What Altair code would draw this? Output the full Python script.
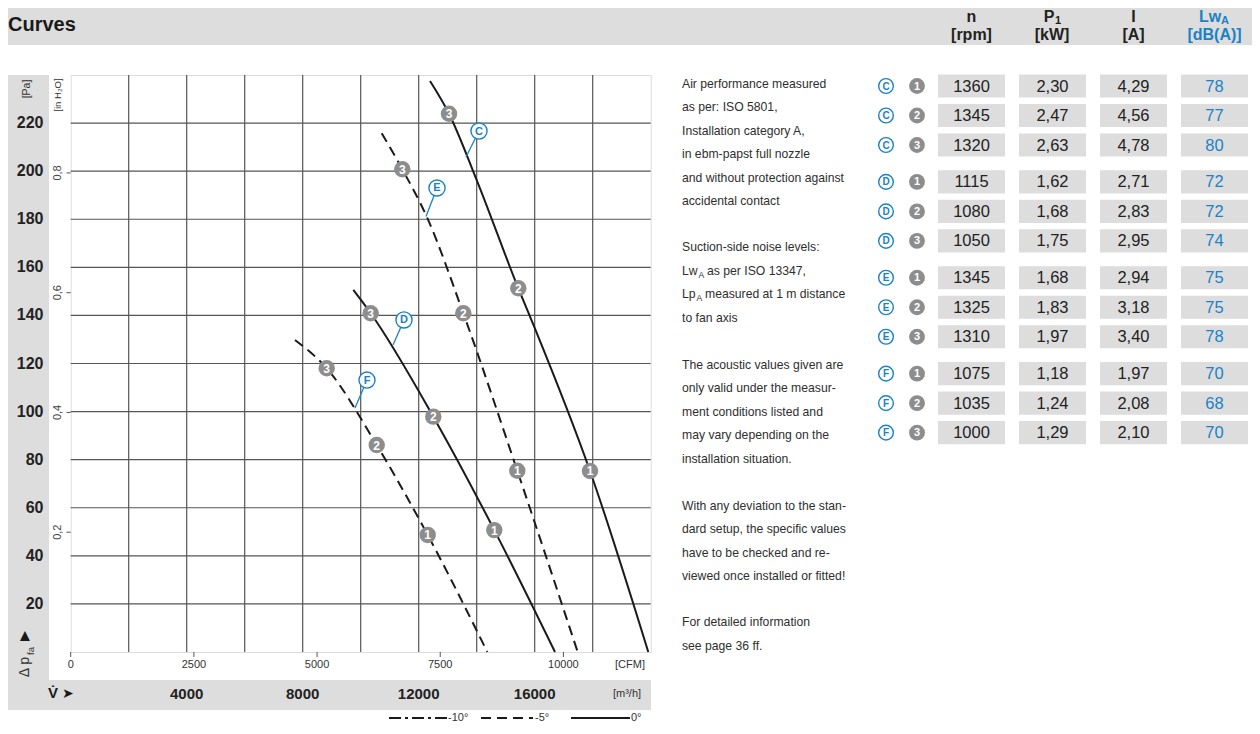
import altair as alt
import pandas as pd

# ---------------- chart values ----------------
CURVE_C_Q = [12390, 13045, 14000, 15434, 16010, 17907, 19917]
CURVE_C_P = [237.5, 223.9, 196.3, 151.3, 134.5, 75.3, 0]
CURVE_D_Q = [9745, 10345, 12503, 14607, 16700]
CURVE_D_P = [150.6, 140.9, 97.9, 50.7, 0]
CURVE_E_Q = [10724, 11434, 12276, 13538, 15400, 17483]
CURVE_E_P = [215.8, 200.8, 181.1, 140.9, 75.4, 0]
CURVE_F_Q = [7734, 8828, 10552, 12310, 14366]
CURVE_F_P = [129.8, 118.0, 86.1, 48.7, 0]
CURVE_ANGLE = {"C": "0°", "D": "0°", "E": "-5°", "F": "-5°"}

POINT_CURVE = ["C", "C", "C", "D", "D", "D", "E", "E", "E", "F", "F", "F"]
POINT_NUM = [1, 2, 3, 1, 2, 3, 1, 2, 3, 1, 2, 3]
POINT_Q = [17907, 15434, 13045, 14607, 12503, 10345, 15400, 13538, 11434, 12310, 10552, 8828]
POINT_P = [75.3, 151.3, 223.9, 50.7, 97.9, 140.9, 75.4, 140.9, 200.8, 48.7, 86.1, 118.0]

LABEL_NAME = ["C", "D", "E", "F"]
LABEL_Q = [14079, 11493, 12631, 10217]
LABEL_P = [216.7, 138.1, 193.0, 113.1]
LEADER_Q = [13631, 11114, 12252, 9803]
LEADER_P = [205.9, 127.7, 181.1, 101.5]

M3H_GRID = [2000, 4000, 6000, 8000, 10000, 12000, 14000, 16000, 18000]
M3H_LABELS = [4000, 8000, 12000, 16000]
PA_TICKS = [20, 40, 60, 80, 100, 120, 140, 160, 180, 200, 220]
CFM_TICKS = [0, 2500, 5000, 7500, 10000]
INH2O_TICKS = [0.2, 0.4, 0.6, 0.8]
CFM_TO_M3H = 1.699
INH2O_TO_PA = 249.089

TABLE_FAN = ["C", "C", "C", "D", "D", "D", "E", "E", "E", "F", "F", "F"]
TABLE_SPEED = [1, 2, 3, 1, 2, 3, 1, 2, 3, 1, 2, 3]
TABLE_N = [1360, 1345, 1320, 1115, 1080, 1050, 1345, 1325, 1310, 1075, 1035, 1000]
TABLE_P1 = [2.30, 2.47, 2.63, 1.62, 1.68, 1.75, 1.68, 1.83, 1.97, 1.18, 1.24, 1.29]
TABLE_I = [4.29, 4.56, 4.78, 2.71, 2.83, 2.95, 2.94, 3.18, 3.40, 1.97, 2.08, 2.10]
TABLE_LW = [78, 77, 80, 72, 72, 74, 75, 75, 78, 70, 68, 70]

NOTE_LINES = [
    "Air performance measured", "as per: ISO 5801,", "Installation category A,",
    "in ebm-papst full nozzle", "and without protection against", "accidental contact",
]
NOTE2_LINES = ["Suction-side noise levels:"]
NOTE3_LINES = [
    "The acoustic values given are", "only valid under the measur-",
    "ment conditions listed and", "may vary depending on the", "installation situation.",
]
NOTE4_LINES = [
    "With any deviation to the stan-", "dard setup, the specific values",
    "have to be checked and re-", "viewed once installed or fitted!",
]
NOTE5_LINES = ["For detailed information", "see page 36 ff."]

# ---------------- styling / layout ----------------
OX, OY = 70.7, 75.0          # page position of the plot area's top-left corner
W, H = 580, 577
FONT = "Liberation Sans, Arial, Helvetica, sans-serif"
DARK = "#222222"
TXT = "#2e2e2e"
GRIDC = "#555555"
BLUE = "#1b82c5"
BG = "#dddddd"
MARKER = "#8d8d8d"
ONE = pd.DataFrame({"k": [0]})


def T(text, x, y, size=12.2, weight="normal", color=TXT, align="left", angle=0):
    return alt.Chart(ONE).mark_text(
        text=text, fontSize=size, fontWeight=weight, color=color, align=align,
        baseline="middle", angle=angle, font=FONT,
    ).encode(x=alt.value(x - OX), y=alt.value(y - OY))


def R(x1, y1, x2, y2, color=BG):
    return alt.Chart(ONE).mark_rect(color=color).encode(
        x=alt.value(x1 - OX), x2=alt.value(x2 - OX), y=alt.value(y1 - OY), y2=alt.value(y2 - OY)
    )


def HL(x1, x2, y, dash=None):
    kw = dict(color="#1a1a1a", strokeWidth=2)
    if dash:
        kw["strokeDash"] = dash
    return alt.Chart(ONE).mark_rule(**kw).encode(
        x=alt.value(x1 - OX), x2=alt.value(x2 - OX), y=alt.value(y - OY)
    )


# ---------------- plot layers ----------------
curves = pd.concat([
    pd.DataFrame({"curve": n, "angle": CURVE_ANGLE[n], "q": q, "p": p})
    for n, q, p in [("C", CURVE_C_Q, CURVE_C_P), ("D", CURVE_D_Q, CURVE_D_P),
                    ("E", CURVE_E_Q, CURVE_E_P), ("F", CURVE_F_Q, CURVE_F_P)]
], ignore_index=True)

XS = alt.Scale(domain=[0, 20000], nice=False, zero=False)
YS = alt.Scale(domain=[0, 240], nice=False, zero=False)
X0 = alt.X("q:Q", scale=XS, axis=None)
Y0 = alt.Y("p:Q", scale=YS, axis=None)

gx = pd.DataFrame({"q": M3H_GRID})
gy = pd.DataFrame({"p": PA_TICKS})
grid_v = alt.Chart(gx).mark_rule(color=GRIDC, strokeWidth=1.2).encode(
    x=X0, y=alt.value(0), y2=alt.value(H))
grid_h = alt.Chart(gy).mark_rule(color=GRIDC, strokeWidth=1.2).encode(
    y=Y0, x=alt.value(0), x2=alt.value(W))
pa_labels = alt.Chart(gy).mark_text(
    font=FONT, fontSize=16, fontWeight="bold", color=DARK, align="right", baseline="middle"
).encode(y=Y0, x=alt.value(43.5 - OX), text=alt.Text("p:Q", format="d"))
m3h_labels = alt.Chart(pd.DataFrame({"q": M3H_LABELS})).mark_text(
    font=FONT, fontSize=15, fontWeight="bold", color=DARK, align="center", baseline="middle"
).encode(x=X0, y=alt.value(694 - OY), text=alt.Text("q:Q", format="d"))

solid = alt.Chart(curves).transform_filter("datum.angle == '0°'").mark_line(
    color="#1a1a1a", strokeWidth=2, interpolate="monotone"
).encode(x=X0, y=Y0, detail="curve:N")
dashed = alt.Chart(curves).transform_filter("datum.angle == '-5°'").mark_line(
    color="#1a1a1a", strokeWidth=2, strokeDash=[10, 6], interpolate="monotone"
).encode(x=X0, y=Y0, detail="curve:N")

labels = pd.DataFrame({"name": LABEL_NAME, "q": LABEL_Q, "p": LABEL_P, "lq": LEADER_Q, "lp": LEADER_P})
leader = alt.Chart(labels).mark_rule(color=BLUE, strokeWidth=1.3).encode(
    x=X0, y=Y0, x2="lq:Q", y2="lp:Q")
lab_circle = alt.Chart(labels).mark_point(
    shape="circle", fill="white", stroke=BLUE, strokeWidth=1.4, size=260, opacity=1, fillOpacity=1
).encode(x=X0, y=Y0)
lab_text = alt.Chart(labels).mark_text(
    font=FONT, fontSize=11, fontWeight="bold", color=BLUE, baseline="middle", dy=0.5
).encode(x=X0, y=Y0, text="name:N")

points = pd.DataFrame({"curve": POINT_CURVE, "num": POINT_NUM, "q": POINT_Q, "p": POINT_P})
pt_circle = alt.Chart(points).mark_circle(size=270, color=MARKER, opacity=1).encode(x=X0, y=Y0)
pt_text = alt.Chart(points).mark_text(
    font=FONT, fontSize=12, fontWeight="bold", color="white", baseline="middle", dy=0.5
).encode(x=X0, y=Y0, text="num:N")

cfm = pd.DataFrame({"cfm": CFM_TICKS})
cfm_text = alt.Chart(cfm).transform_calculate(q=f"datum.cfm * {CFM_TO_M3H}").mark_text(
    font=FONT, fontSize=11, color="#333333", baseline="middle"
).encode(x=X0, y=alt.value(665 - OY), text=alt.Text("cfm:Q", format="d"))
cfm_ticks = alt.Chart(cfm).transform_calculate(q=f"datum.cfm * {CFM_TO_M3H}").mark_rule(
    color=GRIDC, strokeWidth=1
).encode(x=X0, y=alt.value(H), y2=alt.value(H + 5))

h2o = pd.DataFrame({"v": INH2O_TICKS})
h2o["lab"] = [f"{v:.1f}".replace(".", ",") for v in INH2O_TICKS]
h2o_text = alt.Chart(h2o).transform_calculate(p=f"datum.v * {INH2O_TO_PA}").mark_text(
    angle=270, font=FONT, fontSize=11, color="#444444", align="center", baseline="middle"
).encode(x=alt.value(58.5 - OX), y=Y0, text="lab:N")
h2o_ticks = alt.Chart(h2o).transform_calculate(p=f"datum.v * {INH2O_TO_PA}").mark_rule(
    color=GRIDC, strokeWidth=1
).encode(x=alt.value(66.5 - OX), x2=alt.value(0), y=Y0)

plot_layers = [grid_v, grid_h, pa_labels, m3h_labels, solid, dashed, leader, lab_circle,
               lab_text, pt_circle, pt_text, cfm_text, cfm_ticks, h2o_text, h2o_ticks]

# ---------------- table layers ----------------
tbl = pd.DataFrame({"fan": TABLE_FAN, "speed": TABLE_SPEED, "n": TABLE_N,
                    "p1": TABLE_P1, "i": TABLE_I, "lw": TABLE_LW})
tbl["pos"] = tbl["fan"].map({"C": 0, "D": 1, "E": 2, "F": 3}) * 3.25 + tbl["speed"] - 1
cells = []
for _, r in tbl.iterrows():
    cells.append({"pos": r.pos, "col": 0, "txt": str(int(r.n))})
    cells.append({"pos": r.pos, "col": 1, "txt": f"{r.p1:.2f}".replace(".", ",")})
    cells.append({"pos": r.pos, "col": 2, "txt": f"{r.i:.2f}".replace(".", ",")})
    cells.append({"pos": r.pos, "col": 3, "txt": str(int(r.lw))})
cells = pd.DataFrame(cells)

TX = alt.Scale(domain=[0, 3], range=[971.5 - OX, 1214.5 - OX], nice=False, zero=False)
TY = alt.Scale(domain=[0, 10.75], range=[86 - OY, 86 + 10.75 * 29.5 - OY], nice=False, zero=False)
TYP = alt.Y("pos:Q", scale=TY, axis=None)

cell_rect = alt.Chart(cells).transform_calculate(
    x1="datum.col - 0.4136", x2="datum.col + 0.4136", y1="datum.pos - 0.39", y2="datum.pos + 0.39"
).mark_rect(color=BG).encode(
    x=alt.X("x1:Q", scale=TX, axis=None), x2="x2:Q",
    y=alt.Y("y1:Q", scale=TY, axis=None), y2="y2:Q")
cell_text = alt.Chart(cells).mark_text(font=FONT, fontSize=16.5, baseline="middle", dy=0.5).encode(
    x=alt.X("col:Q", scale=TX, axis=None), y=TYP, text="txt:N",
    color=alt.condition("datum.col == 3", alt.value(BLUE), alt.value(DARK)))
fan_circle = alt.Chart(tbl).mark_point(
    shape="circle", fill="white", stroke=BLUE, strokeWidth=1.4, size=215, opacity=1, fillOpacity=1
).encode(x=alt.value(886 - OX), y=TYP)
fan_text = alt.Chart(tbl).mark_text(
    font=FONT, fontSize=10, fontWeight="bold", color=BLUE, baseline="middle", dy=0.5
).encode(x=alt.value(886 - OX), y=TYP, text="fan:N")
spd_circle = alt.Chart(tbl).mark_circle(size=250, color=MARKER, opacity=1).encode(
    x=alt.value(917 - OX), y=TYP)
spd_text = alt.Chart(tbl).mark_text(
    font=FONT, fontSize=11, fontWeight="bold", color="white", baseline="middle", dy=0.5
).encode(x=alt.value(917 - OX), y=TYP, text="speed:N")

table_layers = [cell_rect, cell_text, fan_circle, fan_text, spd_circle, spd_text]

# ---------------- decorations ----------------
bg = [
    R(8, 8, 1252, 45),
    R(8, 75, 49, 680),
    R(8, 680, 651, 710),
]

decos = [
    T("Curves", 8, 25, size=20, weight="bold", color="#1a1a1a"),
    T("n", 971.5, 17, size=16, weight="bold", align="center", color=DARK),
    T("[rpm]", 971.5, 35, size=16, weight="bold", align="center", color=DARK),
    T("P", 1049, 17, size=16, weight="bold", align="center", color=DARK),
    T("1", 1058, 21, size=11, weight="bold", align="center", color=DARK),
    T("[kW]", 1052, 35, size=16, weight="bold", align="center", color=DARK),
    T("I", 1133.5, 17, size=16, weight="bold", align="center", color=DARK),
    T("[A]", 1133.5, 35, size=16, weight="bold", align="center", color=DARK),
    T("Lw", 1210, 17, size=16, weight="bold", align="center", color=BLUE),
    T("A", 1225, 21, size=11, weight="bold", align="center", color=BLUE),
    T("[dB(A)]", 1214.5, 35, size=16, weight="bold", align="center", color=BLUE),
    # axis captions
    T("[Pa]", 27, 89, size=10.5, align="center", angle=270, color="#333333"),
    T("[in H₂O]", 58.5, 95, size=9.5, align="center", angle=270, color="#333333"),
    T("▲", 25, 636, size=17, align="center", color="#1a1a1a"),
    T("Δ p", 25, 667, size=14, align="center", angle=270, color="#333333"),
    T("fa", 31, 651, size=9.5, align="center", angle=270, color="#333333"),
    T("V̇", 53, 693, size=15, weight="bold", align="center", color="#1a1a1a"),
    T("➤", 68, 694, size=14, align="center", color="#1a1a1a"),
    T("[CFM]", 630, 665, size=11, align="center", color="#333333"),
    T("[m³/h]", 627, 694, size=11, align="center", color="#333333"),
    # legend
    HL(389, 447, 718, dash=[12, 4, 3, 4]),
    T("-10°", 448, 718, size=11, color="#333333"),
    HL(481, 533, 718, dash=[10, 6]),
    T("-5°", 535, 718, size=11, color="#333333"),
    HL(571, 630, 718),
    T("0°", 631, 718, size=11, color="#333333"),
]

NX = 682
for k, s in enumerate(NOTE_LINES):
    decos.append(T(s, NX, 84 + k * 23.4))
decos.append(T(NOTE2_LINES[0], NX, 247))
decos += [
    T("Lw", NX, 270.5),
    T("A", 698.5, 274.5, size=8.5),
    T("as per ISO 13347,", 707, 270.5),
    T("Lp", NX, 294),
    T("A", 696.5, 298, size=8.5),
    T("measured at 1 m distance", 705, 294),
    T("to fan axis", NX, 318),
]
for k, s in enumerate(NOTE3_LINES):
    decos.append(T(s, NX, 365 + k * 23.4))
for k, s in enumerate(NOTE4_LINES):
    decos.append(T(s, NX, 505.5 + k * 23.5))
for k, s in enumerate(NOTE5_LINES):
    decos.append(T(s, NX, 622 + k * 24))

chart = alt.layer(*bg, *plot_layers, *table_layers, *decos).resolve_scale(
    x="independent", y="independent"
).properties(
    width=W, height=H,
    padding={"left": OX - 8, "top": OY - 8, "right": 1244 - (OX - 8) - W, "bottom": 714 - (OY - 8) - H},
    autosize=alt.AutoSizeParams(type="none"),
).configure_view(stroke=GRIDC, strokeWidth=1.3).configure(background="white")

chart.save("out.html", embed_options={"renderer": "svg", "actions": False})
